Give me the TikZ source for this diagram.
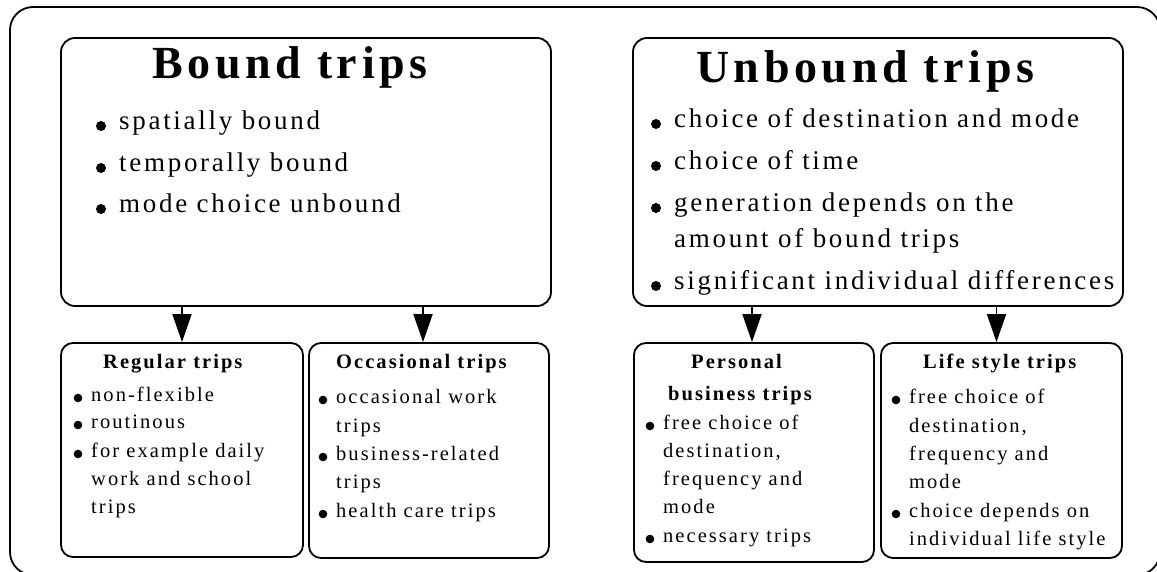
\documentclass[tikz,border=0pt]{standalone}
\usepackage{fontspec}
\setmainfont{Liberation Serif}
\newfontfamily\titlefont[LetterSpace=10]{Liberation Serif}
\newfontfamily\bodyfont[LetterSpace=10]{Liberation Serif}
\usetikzlibrary{arrows.meta}
\tikzset{
  frame/.style={draw, line width=1.8pt, rounded corners=23pt},
  bigbox/.style={draw, line width=1.8pt, rounded corners=14pt, rectangle, inner sep=0pt},
  smallbox/.style={draw, line width=1.8pt, rounded corners=12pt, rectangle, inner sep=0pt},
  bigtitle/.style={anchor=base west, inner sep=0pt, font={\titlefont\bfseries\fontsize{46pt}{50pt}\selectfont}},
  smalltitle/.style={anchor=base west, inner sep=0pt, font={\titlefont\bfseries\fontsize{20.5pt}{24pt}\selectfont}},
  bigtext/.style={anchor=base west, inner sep=0pt, font={\bodyfont\fontsize{27pt}{30pt}\selectfont}},
  smalltext/.style={anchor=base west, inner sep=0pt, font={\bodyfont\fontsize{20.5pt}{24pt}\selectfont}},
  arr/.style={line width=1.8pt, -{Triangle[width=19pt,length=28pt]}}
}
\newcommand\bigitem[4]{\fill (#2-18,#3-4) circle[radius=5pt]; \node[bigtext] (#1) at (#2,#3) {#4};}
\newcommand\bigcont[4]{\node[bigtext] (#1) at (#2,#3) {#4};}
\newcommand\smallitem[4]{\fill (#2-13,#3-3) circle[radius=4.3pt]; \node[smalltext] (#1) at (#2,#3) {#4};}
\newcommand\smallcont[4]{\node[smalltext] (#1) at (#2,#3) {#4};}
\begin{document}
\begin{tikzpicture}[x=1pt,y=-1pt]
\useasboundingbox (0,0) rectangle (1157,572);
\clip (0,0) rectangle (1157,572);
\draw[frame] (10,7) rectangle (1160,575);
% main boxes
\node[bigbox, minimum width=490pt, minimum height=268pt] (bound) at (306,172) {};
\node[bigbox, minimum width=490pt, minimum height=268pt] (unbound) at (878,172) {};
% small boxes
\node[smallbox, minimum width=242pt, minimum height=214pt] (regular) at (182,450) {};
\node[smallbox, minimum width=240pt, minimum height=215pt] (occasional) at (429,450.5) {};
\node[smallbox, minimum width=240pt, minimum height=219pt] (personal) at (754,452.5) {};
\node[smallbox, minimum width=241pt, minimum height=215pt] (life) at (1001.5,450.5) {};
% arrows
\draw[arr] (regular.north |- bound.south) -- (regular.north);
\draw[arr] ([xshift=-6pt]occasional.north |- bound.south) -- ([xshift=-6pt]occasional.north);
\draw[arr] ([xshift=-2pt]personal.north |- unbound.south) -- ([xshift=-2pt]personal.north);
\draw[arr] ([xshift=-5pt]life.north |- unbound.south) -- ([xshift=-5pt]life.north);
% Bound trips
\node[bigtitle] (tb) at (152,79) {Bound trips};
\bigitem{b1}{119}{130}{spatially bound}
\bigitem{b2}{119}{172}{temporally bound}
\bigitem{b3}{119}{213}{mode choice unbound}
% Unbound trips
\node[bigtitle] (tu) at (696,83) {Unbound trips};
\bigitem{u1}{674}{128}{choice of destination and mode}
\bigitem{u2}{674}{170}{choice of time}
\bigitem{u3}{674}{212}{generation depends on the}
\bigcont{u3b}{674}{248}{amount of bound trips}
\bigitem{u4}{674}{290}{significant individual differences}
% Regular trips
\node[smalltitle] (tr) at (103,368) {Regular trips};
\smallitem{r1}{91}{401}{non-flexible}
\smallitem{r2}{91}{428}{routinous}
\smallitem{r3}{91}{457}{for example daily}
\smallcont{r3b}{91}{485}{work and school}
\smallcont{r3c}{91}{513}{trips}
% Occasional trips
\node[smalltitle] (to) at (336,368) {Occasional trips};
\smallitem{o1}{336}{403}{occasional work}
\smallcont{o1b}{336}{432}{trips}
\smallitem{o2}{336}{460}{business-related}
\smallcont{o2b}{336}{488}{trips}
\smallitem{o3}{336}{517}{health care trips}
% Personal business trips
\node[smalltitle] (tp1) at (691,368) {Personal};
\node[smalltitle] (tp2) at (668,400) {business trips};
\smallitem{p1}{663}{429}{free choice of}
\smallcont{p1b}{663}{457}{destination,}
\smallcont{p1c}{663}{485}{frequency and}
\smallcont{p1d}{663}{513}{mode}
\smallitem{p2}{663}{542}{necessary trips}
% Life style trips
\node[smalltitle] (tl) at (923,368) {Life style trips};
\smallitem{l1}{909}{403}{free choice of}
\smallcont{l1b}{909}{432}{destination,}
\smallcont{l1c}{909}{460}{frequency and}
\smallcont{l1d}{909}{488}{mode}
\smallitem{l2}{909}{517}{choice depends on}
\smallcont{l2b}{909}{545}{individual life style}
\end{tikzpicture}
\end{document}
